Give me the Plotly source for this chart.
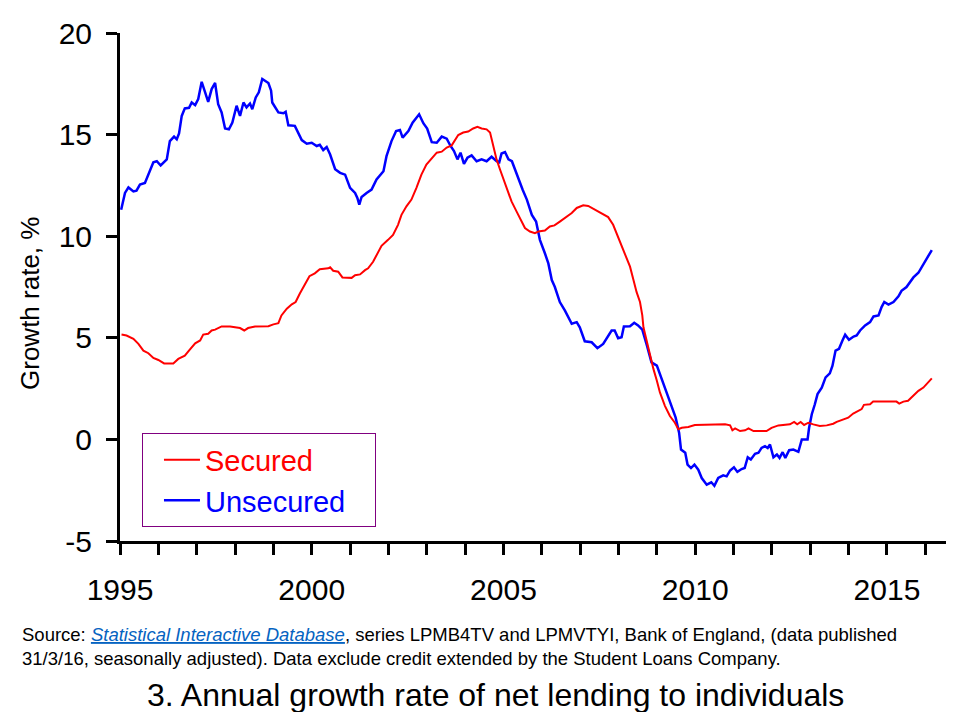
import plotly.graph_objects as go

# Values (decimal years, % growth)
unsecured_x = [
    1995.03, 1995.13, 1995.22, 1995.35, 1995.43, 1995.52, 1995.65, 1995.74, 1995.87, 1995.96,
    1996.06, 1996.22, 1996.30, 1996.41, 1996.48, 1996.54, 1996.61, 1996.69, 1996.80, 1996.87,
    1996.96, 1997.04, 1997.13, 1997.22, 1997.30, 1997.39, 1997.48, 1997.56, 1997.65, 1997.74,
    1997.84, 1997.93, 1998.04, 1998.13, 1998.22, 1998.30, 1998.39, 1998.45, 1998.54, 1998.62,
    1998.71, 1998.87, 1998.94, 1998.97, 1999.13, 1999.26, 1999.32, 1999.39, 1999.56, 1999.74,
    1999.87, 2000.00, 2000.13, 2000.21, 2000.30, 2000.39, 2000.48, 2000.61, 2000.74, 2000.87,
    2001.00, 2001.13, 2001.19, 2001.24, 2001.30, 2001.43, 2001.56, 2001.69, 2001.87, 2001.95,
    2002.08, 2002.20, 2002.30, 2002.37, 2002.52, 2002.63, 2002.80, 2002.91, 2003.01, 2003.13,
    2003.26, 2003.39, 2003.52, 2003.62, 2003.71, 2003.80, 2003.88, 2003.97, 2004.06, 2004.17,
    2004.30, 2004.43, 2004.56, 2004.69, 2004.82, 2004.89, 2004.95, 2005.04, 2005.13, 2005.22,
    2005.30, 2005.39, 2005.50, 2005.61, 2005.74, 2005.85, 2005.95, 2006.08, 2006.17, 2006.26,
    2006.34, 2006.47, 2006.60, 2006.78, 2006.91, 2006.99, 2007.12, 2007.30, 2007.45, 2007.60,
    2007.73, 2007.82, 2007.90, 2007.99, 2008.08, 2008.14, 2008.30, 2008.41, 2008.51, 2008.62,
    2008.74, 2008.86, 2009.00, 2009.12, 2009.25, 2009.38, 2009.49, 2009.58, 2009.63, 2009.74,
    2009.80, 2009.89, 2009.98, 2010.08, 2010.17, 2010.30, 2010.42, 2010.50, 2010.60, 2010.73,
    2010.82, 2010.91, 2011.01, 2011.10, 2011.21, 2011.29, 2011.37, 2011.45, 2011.56, 2011.65,
    2011.73, 2011.82, 2011.89, 2011.95, 2012.04, 2012.13, 2012.20, 2012.28, 2012.35, 2012.45,
    2012.56, 2012.69, 2012.78, 2012.93, 2012.97, 2013.04, 2013.12, 2013.19, 2013.30, 2013.40,
    2013.51, 2013.58, 2013.66, 2013.75, 2013.84, 2013.91, 2014.01, 2014.13, 2014.21, 2014.30,
    2014.43, 2014.56, 2014.65, 2014.78, 2014.86, 2014.93, 2015.04, 2015.17, 2015.30, 2015.38,
    2015.51, 2015.64, 2015.69, 2015.82, 2015.91, 2016.04, 2016.17,
]
unsecured_y = [
    11.30, 12.13, 12.40, 12.20, 12.24, 12.54, 12.62, 13.03, 13.64, 13.69,
    13.48, 13.78, 14.68, 14.90, 14.77, 15.06, 15.92, 16.29, 16.32, 16.58,
    16.45, 16.75, 17.60, 17.08, 16.61, 17.24, 17.54, 16.50, 16.09, 15.30,
    15.26, 15.59, 16.42, 15.92, 16.58, 16.34, 16.53, 16.25, 16.83, 17.08,
    17.74, 17.54, 17.16, 16.58, 16.09, 16.05, 16.12, 15.46, 15.43, 14.73,
    14.55, 14.60, 14.44, 14.50, 14.24, 14.39, 14.02, 13.30, 13.12, 13.03,
    12.38, 12.13, 11.88, 11.55, 11.93, 12.13, 12.29, 12.79, 13.20, 13.94,
    14.68, 15.18, 15.23, 14.85, 15.18, 15.59, 16.00, 15.56, 15.30, 14.63,
    14.60, 14.90, 14.80, 14.44, 14.19, 13.78, 14.11, 13.56, 13.86, 13.98,
    13.69, 13.78, 13.69, 13.91, 13.69, 13.64, 14.07, 14.14, 13.78, 13.69,
    13.28, 12.79, 12.29, 11.80, 11.05, 10.72, 9.82, 9.16, 8.66, 7.84,
    7.50, 6.76, 6.35, 5.69, 5.77, 5.52, 4.83, 4.78, 4.49, 4.70,
    5.11, 5.36, 5.36, 4.98, 5.03, 5.56, 5.57, 5.74, 5.61, 5.40,
    4.62, 3.79, 3.63, 2.97, 2.31, 1.65, 1.07, 0.33, -0.50, -0.66,
    -1.24, -1.41, -1.24, -1.49, -1.90, -2.23, -2.11, -2.28, -1.90, -1.77,
    -1.82, -1.53, -1.37, -1.60, -1.46, -1.41, -0.88, -0.99, -0.71, -0.66,
    -0.42, -0.33, -0.42, -0.25, -0.88, -0.74, -0.91, -0.63, -0.91, -0.53,
    -0.50, -0.61, 0.00, 0.00, 0.57, 1.24, 1.73, 2.23, 2.55, 3.05,
    3.25, 3.63, 4.37, 4.46, 4.87, 5.15, 4.90, 5.06, 5.11, 5.36,
    5.61, 5.77, 6.05, 6.10, 6.51, 6.76, 6.63, 6.76, 7.04, 7.31,
    7.50, 7.80, 7.97, 8.20, 8.47, 8.91, 9.32,
]

secured_x = [
    1995.04, 1995.17, 1995.35, 1995.48, 1995.61, 1995.74, 1995.87, 1996.00, 1996.15, 1996.39,
    1996.52, 1996.69, 1996.82, 1996.96, 1997.09, 1997.17, 1997.30, 1997.39, 1997.48, 1997.65,
    1997.87, 1998.04, 1998.13, 1998.24, 1998.34, 1998.52, 1998.69, 1998.87, 1999.00, 1999.13,
    1999.21, 1999.35, 1999.48, 1999.58, 1999.69, 1999.82, 1999.94, 2000.08, 2000.21, 2000.43,
    2000.48, 2000.56, 2000.69, 2000.80, 2001.04, 2001.13, 2001.26, 2001.39, 2001.47, 2001.60,
    2001.73, 2001.82, 2001.99, 2002.12, 2002.25, 2002.34, 2002.47, 2002.60, 2002.73, 2002.86,
    2002.99, 2003.13, 2003.26, 2003.39, 2003.52, 2003.65, 2003.74, 2003.82, 2003.95, 2004.08,
    2004.21, 2004.32, 2004.43, 2004.56, 2004.65, 2004.73, 2004.82, 2004.91, 2004.99, 2005.08,
    2005.21, 2005.34, 2005.47, 2005.56, 2005.69, 2005.82, 2005.91, 2006.08, 2006.21, 2006.33,
    2006.47, 2006.65, 2006.78, 2006.91, 2007.08, 2007.21, 2007.39, 2007.56, 2007.73, 2007.86,
    2007.95, 2008.04, 2008.17, 2008.30, 2008.39, 2008.47, 2008.56, 2008.62, 2008.65, 2008.74,
    2008.82, 2008.91, 2009.00, 2009.08, 2009.21, 2009.34, 2009.47, 2009.56, 2009.65, 2009.82,
    2009.99, 2010.43, 2010.78, 2010.91, 2010.97, 2011.04, 2011.17, 2011.30, 2011.39, 2011.52,
    2011.86, 2011.99, 2012.17, 2012.47, 2012.58, 2012.66, 2012.75, 2012.84, 2012.95, 2013.08,
    2013.25, 2013.43, 2013.60, 2013.69, 2013.86, 2013.99, 2014.12, 2014.25, 2014.34, 2014.40,
    2014.56, 2014.64, 2014.90, 2015.25, 2015.32, 2015.43, 2015.55, 2015.69, 2015.82, 2015.95,
    2016.08, 2016.17,
]
secured_y = [
    5.16, 5.11, 4.95, 4.70, 4.37, 4.24, 4.01, 3.91, 3.74, 3.74,
    3.96, 4.12, 4.42, 4.73, 4.87, 5.16, 5.20, 5.36, 5.40, 5.56,
    5.56, 5.52, 5.48, 5.36, 5.48, 5.56, 5.57, 5.57, 5.66, 5.72,
    6.10, 6.43, 6.65, 6.76, 7.18, 7.59, 8.03, 8.17, 8.37, 8.42,
    8.47, 8.30, 8.25, 7.97, 7.95, 8.08, 8.12, 8.33, 8.42, 8.74,
    9.24, 9.53, 9.82, 10.06, 10.56, 11.05, 11.47, 11.80, 12.38, 13.03,
    13.53, 13.86, 14.11, 14.16, 14.36, 14.47, 14.77, 14.98, 15.10, 15.15,
    15.30, 15.38, 15.30, 15.26, 15.10, 14.44, 13.78, 13.28, 12.87, 12.38,
    11.71, 11.22, 10.72, 10.40, 10.23, 10.15, 10.23, 10.28, 10.48, 10.53,
    10.72, 10.97, 11.14, 11.39, 11.52, 11.49, 11.30, 11.10, 10.94, 10.56,
    10.15, 9.65, 9.07, 8.50, 7.84, 7.26, 6.76, 6.10, 5.52, 4.78,
    4.12, 3.47, 2.89, 2.31, 1.65, 1.15, 0.82, 0.50, 0.57, 0.61,
    0.71, 0.71, 0.74, 0.69, 0.45, 0.54, 0.41, 0.45, 0.54, 0.41,
    0.41, 0.57, 0.69, 0.74, 0.86, 0.74, 0.86, 0.71, 0.82, 0.74,
    0.66, 0.69, 0.77, 0.86, 0.96, 1.07, 1.27, 1.40, 1.49, 1.70,
    1.73, 1.86, 1.86, 1.86, 1.76, 1.86, 1.90, 2.14, 2.39, 2.55,
    2.80, 3.00,
]

year_ticks = [1995, 2000, 2005, 2010, 2015]
rate_ticks = [-5, 0, 5, 10, 15, 20]
rate_tick_labels = ['-5', '0', '5', '10', '15', '20']

FONT = "Liberation Sans, Arial, sans-serif"

fig = go.Figure()

# blue first so the red line sits on top, legend order reversed below
# (trailing no-break spaces just pad the legend box out to the original width)
fig.add_trace(go.Scatter(
    x=unsecured_x, y=unsecured_y, mode='lines',
    name='<span style="color:#0000FF">Unsecured\u00a0\u00a0\u00a0</span>',
    line=dict(color='#0000FF', width=2.5)
))
fig.add_trace(go.Scatter(
    x=secured_x, y=secured_y, mode='lines',
    name='<span style="color:#FF0000">Secured</span>',
    line=dict(color='#FF0000', width=2)
))

# page body has an 8px default margin, so the figure is sized/offset for that
fig.update_layout(
    width=944,
    height=704,
    margin=dict(l=112, r=6, t=25, b=171),
    paper_bgcolor='white',
    plot_bgcolor='white',
    font=dict(family=FONT, color='black'),
    showlegend=True,
    legend=dict(
        x=0.0266, y=0.212, xanchor='left', yanchor='top',
        bordercolor='#800080', borderwidth=1,
        font=dict(size=29, family=FONT),
        traceorder='reversed',
        indentation=16,
        itemwidth=36,
        bgcolor='white'
    ),
    xaxis=dict(
        range=[1995, 2016.54],
        tickmode='array', tickvals=year_ticks,
        ticks='outside', ticklen=11, tickwidth=2.5, tickcolor='black',
        minor=dict(tick0=1995, dtick=1, ticks='outside', ticklen=11,
                   tickwidth=2.5, tickcolor='black'),
        showline=True, linecolor='black', linewidth=3,
        showgrid=False, zeroline=False,
        tickfont=dict(size=30, family=FONT),
        ticklabelstandoff=9
    ),
    yaxis=dict(
        range=[-5, 20],
        tickmode='array', tickvals=rate_ticks, ticktext=rate_tick_labels,
        ticks='outside', ticklen=11, tickwidth=2.5, tickcolor='black',
        showline=True, linecolor='black', linewidth=3,
        showgrid=False, zeroline=False,
        tickfont=dict(size=30, family=FONT),
        ticklabelstandoff=8
    ),
    annotations=[
        dict(text='Growth rate, %', textangle=-90, xref='paper', yref='paper',
             x=-0.109, y=0.4685, xanchor='center', yanchor='middle',
             showarrow=False, font=dict(size=26, family=FONT)),
        dict(text='Source: <span style="color:#0563C1;text-decoration:underline">'
                  '<i>Statistical Interactive Database</i></span>, series LPMB4TV and LPMVTYI, '
                  'Bank of England, (data published<br>31/3/16, seasonally adjusted). '
                  'Data exclude credit extended by the Student Loans Company.',
             xref='paper', yref='paper', x=-0.121, y=-0.16,
             xanchor='left', yanchor='top', align='left', showarrow=False,
             font=dict(size=18.5, family=FONT)),
        dict(text='3. Annual growth rate of net lending to individuals',
             xref='paper', yref='paper', x=0.454, y=-0.303,
             xanchor='center', yanchor='middle', showarrow=False,
             font=dict(size=32, family=FONT)),
    ]
)

fig.write_html("out.html")
